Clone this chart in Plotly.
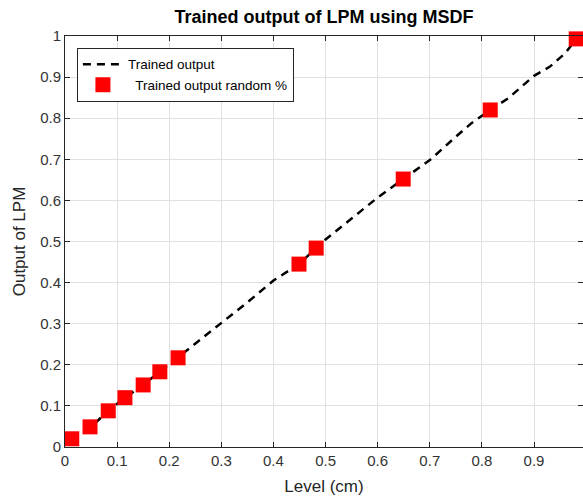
import plotly.graph_objects as go

# Trained output curve (dashed line)
line_x = [0.013, 0.05, 0.083, 0.115, 0.15, 0.182, 0.217, 0.25, 0.3, 0.35, 0.4, 0.449, 0.482,
          0.5, 0.55, 0.6, 0.649, 0.7, 0.75, 0.78, 0.816, 0.85, 0.9, 0.93, 0.96, 0.981]
line_y = [0.02, 0.049, 0.088, 0.12, 0.151, 0.183, 0.217, 0.25, 0.30, 0.352, 0.405, 0.445, 0.484,
          0.505, 0.556, 0.607, 0.652, 0.698, 0.755, 0.788, 0.82, 0.848, 0.903, 0.925, 0.958, 0.993]

# Trained output random % (red square markers)
pts_x = [0.013, 0.048, 0.083, 0.115, 0.15, 0.182, 0.217, 0.449, 0.482, 0.649, 0.816, 0.981]
pts_y = [0.02, 0.049, 0.088, 0.12, 0.151, 0.183, 0.217, 0.445, 0.484, 0.652, 0.82, 0.993]

tick_vals = [0, 0.1, 0.2, 0.3, 0.4, 0.5, 0.6, 0.7, 0.8, 0.9, 1]
tick_text = ["0", "0.1", "0.2", "0.3", "0.4", "0.5", "0.6", "0.7", "0.8", "0.9", "1"]

FONT = "Liberation Sans, Arial, sans-serif"

fig = go.Figure()
fig.add_trace(go.Scatter(
    x=line_x, y=line_y, mode="lines", name="Trained output",
    line=dict(color="black", width=2.5, dash="8px,6px"),
))
fig.add_trace(go.Scatter(
    x=pts_x, y=pts_y, mode="markers", name="  Trained output random %",
    marker=dict(symbol="square", size=15, color="#ff0000", line=dict(width=0)),
    cliponaxis=False,
))

axis_common = dict(
    showgrid=True, gridcolor="#e1e1e1", gridwidth=1,
    showline=True, linecolor="#262626", linewidth=1, mirror="ticks",
    ticks="inside", ticklen=5, tickcolor="#262626",
    tickfont=dict(family=FONT, size=15, color="#333333"),
    zeroline=False, automargin=False,
    tickvals=tick_vals, ticktext=tick_text,
)

fig.update_layout(
    width=583, height=496,
    margin=dict(l=65, r=0, t=36, b=49),
    paper_bgcolor="white", plot_bgcolor="white",
    title=dict(text="<b>Trained output of LPM using MSDF</b>", x=0.5, xref="paper",
               y=1 - 17 / 496, yanchor="middle",
               font=dict(family=FONT, size=18, color="black")),
    xaxis=dict(range=[0, 0.994], title=dict(text="Level (cm)", standoff=12,
               font=dict(family=FONT, size=17, color="#262626")),
               **axis_common),
    yaxis=dict(range=[0, 1], title=dict(text="Output of LPM", standoff=10,
               font=dict(family=FONT, size=17, color="#262626")),
               **axis_common),
    legend=dict(x=0.023, y=0.971, xanchor="left", yanchor="top",
                bordercolor="#262626", borderwidth=1, bgcolor="white",
                font=dict(family=FONT, size=13.5, color="black"),
                tracegroupgap=0, itemwidth=40),
    showlegend=True,
)

fig.write_html("out.html", config={"displayModeBar": False},
               post_script="document.body.style.margin='0';document.body.style.overflow='hidden';")
